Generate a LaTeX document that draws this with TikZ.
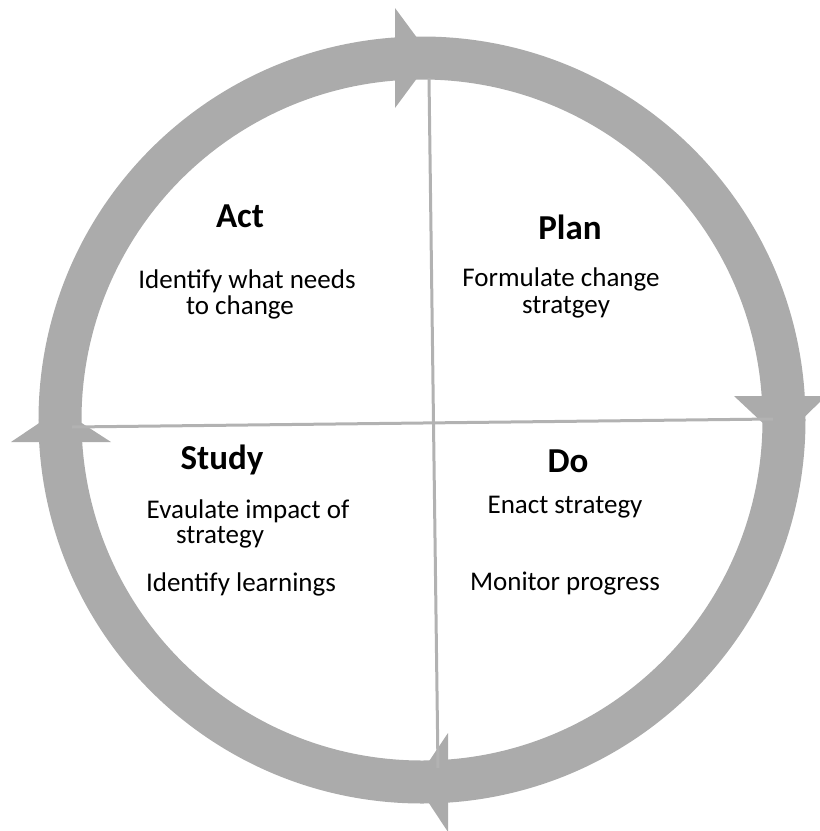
\documentclass[tikz,border=0pt]{standalone}
\usepackage{fontspec}
\setmainfont{Carlito}
\definecolor{ringgray}{RGB}{171,171,171}
\definecolor{linegray}{RGB}{178,178,178}
\tikzset{
  head/.style={fill=ringgray},
  divider/.style={draw=linegray, line width=3pt},
  phase/.style={anchor=base, font=\fontsize{35}{40}\selectfont\bfseries},
  task/.style={anchor=base, font=\fontsize{27}{32}\selectfont}
}
\begin{document}
\begin{tikzpicture}[x=1pt, y=-1pt]
		\useasboundingbox (0,0) rectangle (820,831);
		\draw [ringgray, line width=43pt] (422,420) circle [radius=362];
		\fill [head] (395,8) -- (395,108) -- (432,58) -- cycle;
		\fill [head] (734,396) -- (826,396) -- (781,440) -- cycle;
		\fill [head] (448,733) -- (448,832) -- (415,782) -- cycle;
		\fill [head] (11,442) -- (111,442) -- (60,409) -- cycle;
		\coordinate (vtop) at (429,78);
		\coordinate (vbot) at (438,768);
		\coordinate (hleft) at (72,427);
		\coordinate (hright) at (773,419);
		\draw [divider] (vtop) -- (vbot);
		\draw [divider] (hleft) -- (hright);
		\node [phase] (act) at (240,227) {Act};
		\node [task] (actA) at (247,288) {Identify what needs};
		\node [task] (actB) at (240,314) {to change};
		\node [phase] (plan) at (570,239) {Plan};
		\node [task] (planA) at (561,286) {Formulate change};
		\node [task] (planB) at (566,313) {stratgey};
		\node [phase] (study) at (222,469) {Study};
		\node [task] (studyA) at (248,518) {Evaulate impact of};
		\node [task] (studyB) at (220,543) {strategy};
		\node [task] (studyC) at (241,591) {Identify learnings};
		\node [phase] (do) at (568,472) {Do};
		\node [task] (doA) at (565,513) {Enact strategy};
		\node [task] (doB) at (565,590) {Monitor progress};
	\end{tikzpicture}
\end{document}
